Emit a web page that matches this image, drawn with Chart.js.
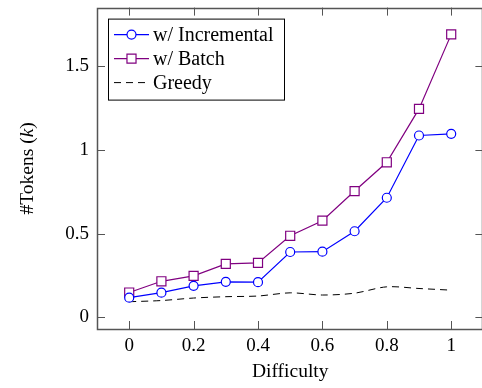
<!DOCTYPE html>
<html>
<head>
<meta charset="utf-8">
<script src="https://cdn.jsdelivr.net/npm/chart.js@4.4.1/dist/chart.umd.min.js"></script>
<style>
  body { margin: 0; background: #fff; overflow: hidden; }
  #wrap { width: 482px; height: 388px; overflow: hidden; }
</style>
</head>
<body>
<div id="wrap"><canvas id="chart" width="491" height="388"></canvas></div>
<script>
const difficulty = [0, 0.1, 0.2, 0.3, 0.4, 0.5, 0.6, 0.7, 0.8, 0.9, 1]
const incremental = [0.117, 0.147, 0.188, 0.212, 0.21, 0.39, 0.392, 0.514, 0.714, 1.086, 1.096]
const batch = [0.148, 0.215, 0.247, 0.319, 0.325, 0.487, 0.577, 0.754, 0.926, 1.245, 1.69]
const greedy = [0.093, 0.1, 0.115, 0.123, 0.127, 0.146, 0.133, 0.144, 0.182, 0.172, 0.162]
const xTicks = [0, 0.2, 0.4, 0.6, 0.8, 1]
const yTicks = [0, 0.5, 1, 1.5]

const serif = "'Liberation Serif', 'Times New Roman', serif"
const blue = "#0000ff"
const violet = "#800080"

function pts(ys){
    return difficulty.map((x, i) => ({x: x, y: ys[i]}))
}

// pgfplots-ish frame: box + inward ticks on every side
const frame = {
    id: "frame",
    afterDatasetsDraw(chart){
        const ctx = chart.ctx
        const a = chart.chartArea
        const xs = chart.scales.x, ys = chart.scales.y
        const tl = 8
        ctx.save()
        ctx.strokeStyle = "#555"
        ctx.lineWidth = 1
        ctx.beginPath()
        xTicks.forEach(v => {
            const px = Math.round(xs.getPixelForValue(v)) + 0.5
            ctx.moveTo(px, a.bottom); ctx.lineTo(px, a.bottom - tl)
            ctx.moveTo(px, a.top); ctx.lineTo(px, a.top + tl)
        })
        yTicks.forEach(v => {
            const py = Math.round(ys.getPixelForValue(v)) + 0.5
            ctx.moveTo(a.left, py); ctx.lineTo(a.left + tl, py)
            ctx.moveTo(a.right, py); ctx.lineTo(a.right - tl, py)
        })
        ctx.stroke()
        ctx.lineWidth = 1.5
        ctx.strokeRect(Math.round(a.left) + 0.5, Math.round(a.top) + 0.5, Math.round(a.right - a.left) - 1, Math.round(a.bottom - a.top))
        ctx.restore()
    }
}

// legend box in the upper left of the plot and the y title with italic k
const boxLegend = {
    id: "boxLegend",
    afterDraw(chart){
        const ctx = chart.ctx
        const a = chart.chartArea
        const x0 = a.left + 11, y0 = a.top + 11
        const w = 176, h = 81
        ctx.save()
        ctx.fillStyle = "#fff"
        ctx.fillRect(x0, y0, w, h)
        ctx.strokeStyle = "#000"
        ctx.lineWidth = 1
        ctx.strokeRect(x0 + 0.5, y0 + 0.5, w, h)
        chart.data.datasets.forEach((ds, i) => {
            const cy = y0 + 16 + i * 24
            const lx = x0 + 6, rx = x0 + 41
            ctx.strokeStyle = ds.borderColor
            ctx.lineWidth = ds.borderWidth
            ctx.setLineDash(ds.borderDash || [])
            ctx.beginPath()
            ctx.moveTo(lx, cy); ctx.lineTo(rx, cy)
            ctx.stroke()
            ctx.setLineDash([])
            if (ds.pointRadius > 0) {
                ctx.fillStyle = "#fff"
                ctx.strokeStyle = ds.borderColor
                ctx.lineWidth = ds.pointBorderWidth
                ctx.beginPath()
                if (ds.pointStyle === "circle") {
                    ctx.arc((lx + rx) / 2, cy, ds.pointRadius, 0, Math.PI * 2)
                } else {
                    const s = ds.pointRadius * Math.SQRT1_2
                    ctx.rect((lx + rx) / 2 - s, cy - s, 2 * s, 2 * s)
                }
                ctx.fill(); ctx.stroke()
            }
            ctx.fillStyle = "#000"
            ctx.font = "20px " + serif
            ctx.textBaseline = "middle"
            ctx.fillText(ds.label, x0 + 45, cy + 1)
        })

        // y axis title
        ctx.translate(28, (a.top + a.bottom) / 2)
        ctx.rotate(-Math.PI / 2)
        ctx.fillStyle = "#000"
        ctx.textBaseline = "middle"
        const parts = [["#Tokens (", "19.5px " + serif], ["k", "italic 19.5px " + serif], [")", "19.5px " + serif]]
        let total = 0
        parts.forEach(p => { ctx.font = p[1]; total += ctx.measureText(p[0]).width })
        let px = -total / 2
        parts.forEach(p => {
            ctx.font = p[1]
            ctx.fillText(p[0], px, 0)
            px += ctx.measureText(p[0]).width
        })
        ctx.restore()
    }
}

new Chart(document.getElementById("chart"), {
    type: "line",
    data: {
        datasets: [{
            label: "w/ Incremental",
            data: pts(incremental),
            borderColor: blue,
            backgroundColor: "#fff",
            borderWidth: 1.2,
            pointStyle: "circle",
            pointRadius: 4.5,
            pointBorderWidth: 1.2,
            pointBackgroundColor: "#fff",
            pointBorderColor: blue,
            tension: 0
        }, {
            label: "w/ Batch",
            data: pts(batch),
            borderColor: violet,
            backgroundColor: "#fff",
            borderWidth: 1.2,
            pointStyle: "rect",
            pointRadius: 6.4,
            pointBorderWidth: 1.2,
            pointBackgroundColor: "#fff",
            pointBorderColor: violet,
            tension: 0
        }, {
            label: "Greedy",
            data: pts(greedy),
            borderColor: "#000",
            borderWidth: 1,
            borderDash: [7, 5],
            pointRadius: 0,
            tension: 0.3
        }]
    },
    options: {
        responsive: false,
        animation: false,
        devicePixelRatio: 1,
        layout: {padding: {top: 6, right: 0, left: 0, bottom: 0}},
        plugins: {legend: {display: false}, tooltip: {enabled: false}},
        scales: {
            x: {
                type: "linear",
                min: -0.1,
                max: 1.1,
                grid: {display: false, drawTicks: false},
                border: {display: false},
                afterBuildTicks: s => { s.ticks = xTicks.map(v => ({value: v})) },
                afterFit: s => { s.height = 59; s.paddingLeft = 0; s.paddingRight = 0 },
                ticks: {
                    color: "#000",
                    padding: 6,
                    font: {family: serif, size: 19},
                    callback: v => String(v)
                },
                title: {
                    display: true,
                    text: "Difficulty",
                    color: "#000",
                    padding: {top: 0, bottom: 4},
                    font: {family: serif, size: 19.5}
                }
            },
            y: {
                min: -0.07,
                max: 1.85,
                grid: {display: false, drawTicks: false},
                border: {display: false},
                afterBuildTicks: s => { s.ticks = yTicks.map(v => ({value: v})) },
                afterFit: s => { s.width = 97; s.paddingTop = 0; s.paddingBottom = 0 },
                ticks: {
                    color: "#000",
                    padding: 8,
                    font: {family: serif, size: 19},
                    callback: v => String(v)
                }
            }
        }
    },
    plugins: [frame, boxLegend]
})
</script>
</body>
</html>
